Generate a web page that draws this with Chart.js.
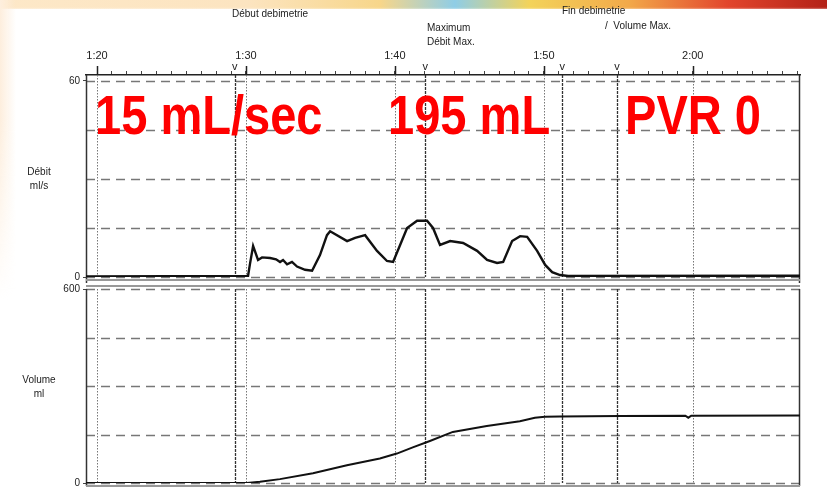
<!DOCTYPE html>
<html>
<head>
<meta charset="utf-8">
<script src="https://cdn.jsdelivr.net/npm/chart.js@4.4.1/dist/chart.umd.min.js"></script>
<style>
  html,body{margin:0;padding:0;}
  body{width:827px;height:492px;position:relative;overflow:hidden;background:#fff;font-family:"Liberation Sans",Arial,sans-serif;}
  #strip{position:absolute;left:0;top:0;width:827px;height:9px;
    background:linear-gradient(to right,#fde8c8 0%,#fce4c0 30%,#f7d68a 46%,#8fcde6 55%,#f3d35a 64%,#f2a94a 76%,#e2452c 88%,#b32218 100%);}
  #stripfade{position:absolute;left:0;top:0;width:827px;height:12px;background:linear-gradient(to bottom,rgba(255,255,255,0) 60%,#fff 100%);}
  #leftfade{position:absolute;left:0;top:0;width:16px;height:300px;background:linear-gradient(to right,#fdeedd,rgba(255,255,255,0));
    -webkit-mask-image:linear-gradient(to bottom,#000 40%,transparent 100%);mask-image:linear-gradient(to bottom,#000 40%,transparent 100%);}
  canvas{position:absolute;left:0;}
  #c1{top:0;}
  #c2{top:280px;}
  .lbl{position:absolute;font-size:10px;color:#222;white-space:nowrap;line-height:12px;}
  .ax{position:absolute;font-size:10px;color:#222;text-align:center;width:60px;line-height:14px;}
  .big{position:absolute;font-weight:bold;font-size:56px;line-height:56px;color:#f00;white-space:nowrap;transform:scaleX(0.84);transform-origin:0 0;}
</style>
</head>
<body>
<div id="strip"></div><div id="stripfade"></div><div id="leftfade"></div>
<canvas id="c1" width="827" height="286"></canvas>
<canvas id="c2" width="827" height="212"></canvas>

<div class="lbl" style="left:232px;top:8px;">Début debimetrie</div>
<div class="lbl" style="left:427px;top:22px;">Maximum</div>
<div class="lbl" style="left:427px;top:36px;">Débit Max.</div>
<div class="lbl" style="left:562px;top:5px;">Fin debimetrie</div>
<div class="lbl" style="left:605px;top:20px;">/&nbsp;&nbsp;Volume Max.</div>
<div class="ax" style="left:9px;top:165px;">Débit<br>ml/s</div>
<div class="ax" style="left:9px;top:373px;">Volume<br>ml</div>

<div class="big" style="left:95px;top:87px;">15 mL/sec</div>
<div class="big" style="left:388px;top:87px;">195 mL</div>
<div class="big" style="left:625px;top:87px;">PVR 0</div>

<script>
// ---- data (time in seconds; 80 s = 1:20) ----
const xMin = 79.26, xMax = 127.2;
const majorTimes = [80, 90, 100, 110, 120];
const eventTimes = [89.25, 102.03, 111.23, 114.92];

const flowTime  = [79.26, 90.14, 90.27, 90.48, 90.81, 91.08, 91.62, 92.02, 92.29, 92.49, 92.76, 93.09, 93.43, 93.97, 94.44, 94.97, 95.44, 95.65, 96.79, 97.33, 98.0, 98.80, 99.47, 99.88, 100.35, 100.82, 101.49, 102.16, 102.56, 103.03, 103.71, 104.58, 105.52, 106.19, 106.86, 107.27, 107.87, 108.41, 108.88, 109.55, 110.09, 110.56, 111.09, 111.63, 127.2];
const flowValue = [0.2, 0.3, 4.0, 9.5, 5.2, 6.0, 5.8, 5.4, 4.6, 5.2, 3.9, 4.6, 3.2, 2.2, 1.9, 6.7, 12.8, 14.0, 11.0, 12.0, 12.8, 8.0, 4.9, 4.6, 9.8, 15.0, 17.2, 17.2, 15.0, 9.8, 11.0, 10.4, 8.0, 5.2, 4.3, 4.6, 11.0, 12.5, 12.3, 8.0, 3.7, 1.5, 0.6, 0.3, 0.4];

const volTime  = [79.26, 90.07, 90.94, 92.28, 94.50, 96.78, 98.99, 100.13, 101.2, 102.35, 103.89, 106.17, 108.39, 109.4, 110.07, 111.07, 115.1, 119.5, 119.7, 119.9, 127.2];
const volValue = [0, 0, 4, 12, 30, 55, 76, 91, 110, 130, 158, 176, 191, 202, 205, 206, 207, 208, 202, 208, 209];

const flowGrid = [0, 15, 30, 45, 60];
const volGrid  = [0, 150, 300, 450, 600];
const flowTickLabels = [0, 60];
const volTickLabels  = [0, 600];

function fmtTime(v){ const m = Math.floor(v/60), s = Math.round(v%60); return m + ':' + String(s).padStart(2,'0'); }
const secTicks = []; for (let s = 80; s <= 127; s++) secTicks.push(s);

const FONT = {family:'"Liberation Sans", Arial, sans-serif', size:10};

function panelPlugin(gridVals, isTop){
  return {
    id:'panel',
    beforeDatasetsDraw(chart){
      const {ctx, chartArea:a, scales:{x, y}} = chart;
      ctx.save();
      ctx.strokeStyle = '#777'; ctx.lineWidth = 1.6; ctx.setLineDash([9,6]);
      gridVals.forEach(v=>{ const py = Math.round(y.getPixelForValue(v))+0.5; ctx.beginPath(); ctx.moveTo(a.left, py); ctx.lineTo(a.right, py); ctx.stroke(); });
      ctx.strokeStyle = '#777'; ctx.lineWidth = 1; ctx.setLineDash([1.5,1.5]);
      majorTimes.forEach(t=>{ const px = Math.round(x.getPixelForValue(t))+0.5; ctx.beginPath(); ctx.moveTo(px, a.top); ctx.lineTo(px, a.bottom); ctx.stroke(); });
      ctx.strokeStyle = '#333'; ctx.lineWidth = 1.3; ctx.setLineDash([3,1]);
      eventTimes.forEach(t=>{ const px = Math.round(x.getPixelForValue(t))+0.5; ctx.beginPath(); ctx.moveTo(px, a.top); ctx.lineTo(px, a.bottom); ctx.stroke(); });
      ctx.setLineDash([]);
      ctx.strokeStyle = '#333'; ctx.lineWidth = 1.5;
      ctx.beginPath(); ctx.moveTo(a.left+0.5, a.top); ctx.lineTo(a.left+0.5, isTop ? a.bottom+6 : a.bottom+3); ctx.stroke();
      ctx.beginPath(); ctx.moveTo(a.right-0.5, a.top); ctx.lineTo(a.right-0.5, isTop ? a.bottom+6 : a.bottom+3); ctx.stroke();
      if (isTop){
        ctx.strokeStyle = '#999'; ctx.lineWidth = 2;
        ctx.beginPath(); ctx.moveTo(a.left, a.bottom+3); ctx.lineTo(a.right, a.bottom+3); ctx.stroke();
        ctx.strokeStyle = '#222'; ctx.lineWidth = 1.5;
        majorTimes.forEach(t=>{ const px = Math.round(x.getPixelForValue(t))+0.5; ctx.beginPath(); ctx.moveTo(px, a.top); ctx.lineTo(px, a.top-9); ctx.stroke(); });
        ctx.fillStyle = '#222'; ctx.font = '11px "Liberation Sans", Arial'; ctx.textAlign = 'center'; ctx.textBaseline = 'bottom';
        eventTimes.forEach(t=>{ ctx.fillText('v', x.getPixelForValue(t), a.top-3); });
      } else {
        ctx.strokeStyle = '#999'; ctx.lineWidth = 2;
        ctx.beginPath(); ctx.moveTo(a.left, a.top-3); ctx.lineTo(a.right, a.top-3); ctx.stroke();
        ctx.beginPath(); ctx.moveTo(a.left, a.bottom+3); ctx.lineTo(a.right, a.bottom+3); ctx.stroke();
      }
      ctx.restore();
    }
  };
}

new Chart(document.getElementById('c1'), {
  type:'line',
  data:{datasets:[{data: flowTime.map((t,i)=>({x:t, y:flowValue[i]})), borderColor:'#111', borderWidth:2.4, pointRadius:0, tension:0, fill:false}]},
  options:{
    animation:false, responsive:false, maintainAspectRatio:false,
    layout:{padding:{left:0, right:27, top:0, bottom:7}},
    plugins:{legend:{display:false}, tooltip:{enabled:false}},
    scales:{
      x:{type:'linear', position:'top', min:xMin, max:xMax,
        afterBuildTicks:s=>{ s.ticks = secTicks.map(v=>({value:v})); },
        afterFit:s=>{ s.height = 75; },
        grid:{drawOnChartArea:false, drawTicks:true, tickLength:4, color:'#444', lineWidth:1},
        border:{display:true, color:'#222', width:1.5},
        ticks:{autoSkip:false, maxRotation:0, minRotation:0, padding:8, color:'#222', font:{...FONT, size:11},
          callback:v=> (v % 10 === 0 ? fmtTime(v) : '')}
      },
      y:{min:0, max:61.8,
        afterBuildTicks:s=>{ s.ticks = flowTickLabels.map(v=>({value:v})); },
        afterFit:s=>{ s.width = 86; },
        grid:{display:true, drawOnChartArea:false, drawTicks:true, tickLength:3, color:'#444'},
        border:{display:false},
        ticks:{padding:3, color:'#222', font:FONT}
      }
    }
  },
  plugins:[panelPlugin(flowGrid, true)]
});

new Chart(document.getElementById('c2'), {
  type:'line',
  data:{datasets:[{data: volTime.map((t,i)=>({x:t, y:volValue[i]})), borderColor:'#111', borderWidth:2, pointRadius:0, tension:0, fill:false}]},
  options:{
    animation:false, responsive:false, maintainAspectRatio:false,
    layout:{padding:{left:0, right:27, top:7, bottom:7}},
    plugins:{legend:{display:false}, tooltip:{enabled:false}},
    scales:{
      x:{type:'linear', display:false, min:xMin, max:xMax},
      y:{min:0, max:600,
        afterBuildTicks:s=>{ s.ticks = volTickLabels.map(v=>({value:v})); },
        afterFit:s=>{ s.width = 86; },
        grid:{display:true, drawOnChartArea:false, drawTicks:true, tickLength:3, color:'#444'},
        border:{display:false},
        ticks:{padding:3, color:'#222', font:FONT}
      }
    }
  },
  plugins:[panelPlugin(volGrid, false)]
});
</script>
</body>
</html>
